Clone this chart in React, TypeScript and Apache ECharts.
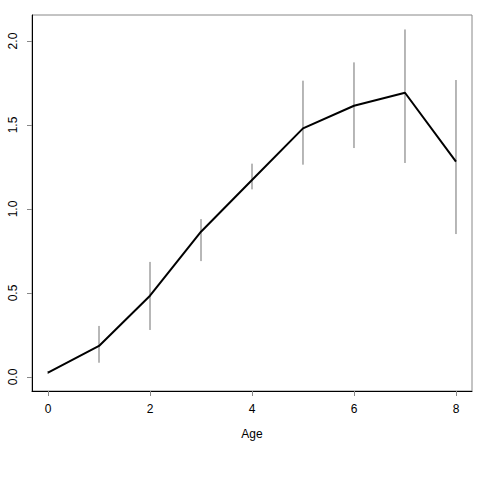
import React, { useEffect, useRef } from "react";
import * as echarts from "echarts";

const ages = [0, 1, 2, 3, 4, 5, 6, 7, 8];
const means = [0.026, 0.185, 0.484, 0.865, 1.173, 1.48, 1.615, 1.692, 1.282];
const lower = [0.018, 0.085, 0.28, 0.69, 1.117, 1.264, 1.363, 1.274, 0.851];
const upper = [0.035, 0.304, 0.685, 0.94, 1.27, 1.764, 1.873, 2.069, 1.768];
const xTicks = [0, 2, 4, 6, 8];
const yTicks = [0, 0.5, 1, 1.5, 2];

export default function App() {
  const ref = useRef<HTMLDivElement>(null);
  useEffect(() => {
    if (!ref.current) return;
    const chart = echarts.init(ref.current, null, { renderer: "svg" });
    const font = "'Liberation Sans', Arial, sans-serif";
    chart.setOption({
      animation: false,
      backgroundColor: "#ffffff",
      grid: {
        left: 32,
        top: 15,
        right: 8,
        bottom: 89,
        show: true,
        borderColor: "#888888",
        borderWidth: 1,
        backgroundColor: "transparent",
      },
      xAxis: {
        type: "value",
        min: -0.314,
        max: 8.314,
        name: "Age",
        nameLocation: "middle",
        nameGap: 37,
        nameTextStyle: { fontFamily: font, fontSize: 12, color: "#000" },
        axisLine: { show: true, onZero: false, lineStyle: { color: "#000", width: 1 } },
        axisTick: {
          show: true,
          length: 5,
          customValues: xTicks,
          lineStyle: { color: "#888" },
        },
        axisLabel: {
          customValues: xTicks,
          margin: 12,
          fontFamily: font,
          fontSize: 12,
          color: "#000",
          formatter: (v: number) => String(v),
        },
        splitLine: { show: false },
      },
      yAxis: {
        type: "value",
        min: -0.0833,
        max: 2.155,
        axisLine: { show: true, onZero: false, lineStyle: { color: "#000", width: 1 } },
        axisTick: {
          show: true,
          length: 5,
          customValues: yTicks,
          lineStyle: { color: "#888" },
        },
        axisLabel: {
          customValues: yTicks,
          rotate: 90,
          margin: 13,
          fontFamily: font,
          fontSize: 12,
          color: "#000",
          formatter: (v: number) => v.toFixed(1),
        },
        splitLine: { show: false },
      },
      series: [
        {
          type: "custom",
          data: ages.map((a, i) => [a, lower[i], upper[i]]),
          renderItem: (params: any, api: any) => {
            const p1 = api.coord([api.value(0), api.value(1)]);
            const p2 = api.coord([api.value(0), api.value(2)]);
            return {
              type: "line",
              shape: { x1: p1[0], y1: p1[1], x2: p2[0], y2: p2[1] },
              style: { stroke: "#707070", lineWidth: 1 },
            };
          },
          z: 2,
        },
        {
          type: "line",
          data: ages.map((a, i) => [a, means[i]]),
          showSymbol: false,
          symbol: "none",
          lineStyle: { color: "#000", width: 2 },
          z: 3,
        },
      ],
    });
    return () => chart.dispose();
  }, []);
  return (
    <div
      ref={ref}
      style={{ position: "fixed", left: 0, top: 0, width: 480, height: 480, background: "#fff" }}
    />
  );
}
